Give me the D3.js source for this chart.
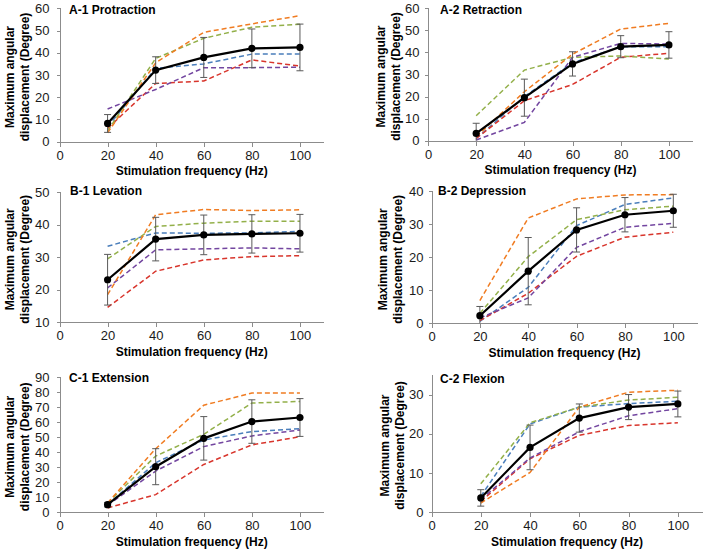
<!DOCTYPE html>
<html>
<head>
<meta charset="utf-8">
<script src="https://cdn.jsdelivr.net/npm/d3@7"></script>
<style>
body { margin: 0; background: #fff; }
svg { font-family: Arial, "Liberation Sans", sans-serif; }
</style>
</head>
<body>
<svg id="chart" width="706" height="552"></svg>
<script>
// frequencies on the x axis
const freqs = [20, 40, 60, 80, 100];
const xTicks = [0, 20, 40, 60, 80, 100];

// individual animals: blue, red, green, purple, orange
const lineColors = ['#4A7EBB', '#D8352C', '#93B04A', '#7346A0', '#F07C22'];

// A-1 Protraction
const a1Mean = [8.2, 32.2, 37.9, 42.0, 42.4];
const a1Err = [4.0, 6.0, 9.0, 8.7, 10.5];
const a1Lines = [
    [6.7, 33.0, 35.0, 39.4, 39.4],
    [6.0, 26.2, 27.3, 36.8, 34.0],
    [4.8, 37.5, 46.5, 51.5, 52.8],
    [14.7, 23.5, 33.3, 33.3, 33.5],
    [4.0, 35.5, 49.2, 53.0, 56.7]
];

// A-2 Retraction
const a2Mean = [3.3, 19.5, 34.8, 42.6, 43.4];
const a2Err = [4.6, 8.4, 5.5, 5.0, 6.0];
const a2Lines = [
    [1.0, 20.0, 35.3, 42.6, 42.6],
    [1.0, 18.1, 25.5, 37.8, 39.6],
    [11.3, 32.0, 37.8, 38.4, 37.0],
    [0.3, 8.3, 37.8, 44.1, 43.8],
    [1.8, 22.2, 39.2, 50.6, 53.2]
];

// B-1 Levation
const b1Mean = [23.1, 35.6, 36.9, 37.2, 37.4];
const b1Err = [7.8, 6.7, 6.1, 5.9, 5.8];
const b1Lines = [
    [33.4, 37.5, 37.4, 37.5, 38.0],
    [14.6, 25.7, 29.2, 30.2, 30.5],
    [29.5, 39.5, 40.5, 41.1, 41.1],
    [20.6, 32.3, 32.6, 32.9, 32.6],
    [18.5, 43.1, 44.7, 44.4, 44.6]
];

// B-2 Depression
const b2Mean = [2.3, 15.8, 28.3, 32.9, 34.1];
const b2Err = [2.8, 10.2, 6.7, 5.2, 5.0];
const b2Lines = [
    [0.6, 10.9, 29.6, 36.0, 38.0],
    [0.8, 9.1, 20.3, 26.1, 27.6],
    [3.0, 20.2, 31.4, 34.4, 35.5],
    [1.6, 7.7, 23.0, 29.1, 30.3],
    [6.9, 31.9, 37.7, 38.9, 39.0]
];

// C-1 Extension
const c1Mean = [5.1, 30.4, 49.3, 60.5, 63.2];
const c1Err = [1.5, 12.0, 14.5, 14.5, 12.6];
const c1Lines = [
    [5.1, 33.0, 48.2, 53.8, 55.8],
    [2.9, 11.8, 31.9, 44.9, 50.4],
    [6.2, 37.5, 52.0, 72.8, 73.9],
    [4.7, 27.5, 43.8, 50.9, 54.9],
    [6.2, 42.4, 71.4, 79.5, 79.5]
];

// C-2 Flexion
const c2Mean = [3.6, 16.5, 24.0, 26.8, 27.6];
const c2Err = [2.1, 5.7, 3.6, 3.2, 3.3];
const c2Lines = [
    [4.0, 22.5, 26.8, 27.7, 28.3],
    [2.7, 13.6, 19.6, 22.1, 22.8],
    [7.2, 22.8, 26.8, 28.6, 29.3],
    [3.2, 13.8, 20.5, 24.6, 26.4],
    [2.3, 10.1, 26.8, 30.6, 31.1]
];

const panels = [
    { title: 'A-1 Protraction', mean: a1Mean, err: a1Err, lines: a1Lines,
      yDomain: [0, 60], yTicks: [0, 10, 20, 30, 40, 50, 60],
      x0: 59.5, x1: 324, yB: 141.7, yT: 8.3, tx: 69, ty: 14, lab: 9.5, labGap: 11 },
    { title: 'A-2 Retraction', mean: a2Mean, err: a2Err, lines: a2Lines,
      yDomain: [0, 60], yTicks: [0, 10, 20, 30, 40, 50, 60],
      x0: 428, x1: 693, yB: 140.7, yT: 8.3, tx: 440, ty: 14, lab: 380.5, labGap: 9 },
    { title: 'B-1 Levation', mean: b1Mean, err: b1Err, lines: b1Lines,
      yDomain: [10, 50], yTicks: [10, 20, 30, 40, 50],
      x0: 59.5, x1: 324, yB: 322.3, yT: 192.3, tx: 70, ty: 194.5, lab: 9.5, labGap: 11 },
    { title: 'B-2 Depression', mean: b2Mean, err: b2Err, lines: b2Lines,
      yDomain: [0, 40], yTicks: [0, 10, 20, 30, 40],
      x0: 431.5, x1: 697.5, yB: 323.3, yT: 191.3, tx: 438, ty: 194.5, lab: 382.5, labGap: 9 },
    { title: 'C-1 Extension', mean: c1Mean, err: c1Err, lines: c1Lines,
      yDomain: [0, 90], yTicks: [0, 10, 20, 30, 40, 50, 60, 70, 80, 90],
      x0: 59.5, x1: 324, yB: 512.3, yT: 377.3, tx: 69, ty: 381.5, lab: 9.5, labGap: 11 },
    { title: 'C-2 Flexion', mean: c2Mean, err: c2Err, lines: c2Lines,
      yDomain: [0, 35], yTicks: [0, 10, 20, 30],
      x0: 431.5, x1: 702.5, yB: 512, yT: 375, tx: 440, ty: 382.5, lab: 384.5, labGap: 9 }
];

const svg = d3.select('#chart');
const axisColor = '#8c8c8c';

panels.forEach(p => {
    const x = d3.scaleLinear().domain([0, 110]).range([p.x0, p.x1]);
    const y = d3.scaleLinear().domain(p.yDomain).range([p.yB, p.yT]);
    const g = svg.append('g');

    // axes
    const xAxis = g.append('g')
        .attr('transform', `translate(0,${Math.round(p.yB) + 0.5})`)
        .call(d3.axisBottom(x).tickValues(xTicks).tickSizeInner(4).tickSizeOuter(0).tickPadding(4));
    const yAxis = g.append('g')
        .attr('transform', `translate(${Math.round(p.x0) + 0.5},0)`)
        .call(d3.axisLeft(y).tickValues(p.yTicks).tickSizeInner(4).tickSizeOuter(0).tickPadding(p.labGap - 4));
    [xAxis, yAxis].forEach(a => {
        a.selectAll('path, line').attr('stroke', axisColor).attr('shape-rendering', 'crispEdges');
        a.selectAll('text').attr('font-size', 13).attr('fill', '#1a1a1a')
            .attr('font-family', 'Arial, "Liberation Sans", sans-serif');
    });
    xAxis.select('.domain').attr('d', `M${p.x0},0H${p.x1}`);
    yAxis.select('.domain').attr('d', `M0,${p.yB}V${p.yT}`);

    // individual dashed lines
    const line = d3.line().x((d, i) => x(freqs[i])).y(d => y(d));
    p.lines.forEach((vals, k) => {
        g.append('path')
            .datum(vals)
            .attr('d', line)
            .attr('fill', 'none')
            .attr('stroke', lineColors[k])
            .attr('stroke-width', 1.5)
            .attr('stroke-dasharray', '5,3');
    });

    // error bars
    const eb = g.append('g').attr('stroke', '#595959').attr('stroke-width', 1);
    p.mean.forEach((m, i) => {
        const cx = x(freqs[i]);
        const lo = Math.max(m - p.err[i], p.yDomain[0]);
        const hi = m + p.err[i];
        eb.append('line').attr('x1', cx).attr('x2', cx).attr('y1', y(lo)).attr('y2', y(hi));
        eb.append('line').attr('x1', cx - 3.5).attr('x2', cx + 3.5).attr('y1', y(hi)).attr('y2', y(hi));
        if (lo > p.yDomain[0]) {
            eb.append('line').attr('x1', cx - 3.5).attr('x2', cx + 3.5).attr('y1', y(lo)).attr('y2', y(lo));
        }
    });

    // mean line with markers
    g.append('path')
        .datum(p.mean)
        .attr('d', line)
        .attr('fill', 'none')
        .attr('stroke', '#000')
        .attr('stroke-width', 2.2);
    g.selectAll('circle.mean')
        .data(p.mean)
        .enter()
        .append('circle')
        .attr('cx', (d, i) => x(freqs[i]))
        .attr('cy', d => y(d))
        .attr('r', 3.6)
        .attr('fill', '#000');

    // panel title
    g.append('text')
        .attr('x', p.tx).attr('y', p.ty)
        .attr('font-size', 12).attr('font-weight', 'bold')
        .text(p.title);

    // axis titles
    const xMid = (p.x0 + p.x1) / 2;
    g.append('text')
        .attr('x', xMid).attr('y', p.yB + 33.5)
        .attr('text-anchor', 'middle')
        .attr('font-size', 12).attr('font-weight', 'bold')
        .text('Stimulation frequency (Hz)');

    const yMid = (p.yB + p.yT) / 2 + 2;
    ['Maximum angular', 'displacement (Degree)'].forEach((t, j) => {
        g.append('text')
            .attr('transform', `translate(${p.lab + j * 14.8},${yMid}) rotate(-90)`)
            .attr('text-anchor', 'middle')
            .attr('dy', '0.36em')
            .attr('font-size', 12).attr('font-weight', 'bold')
            .text(t);
    });
});
</script>
</body>
</html>
